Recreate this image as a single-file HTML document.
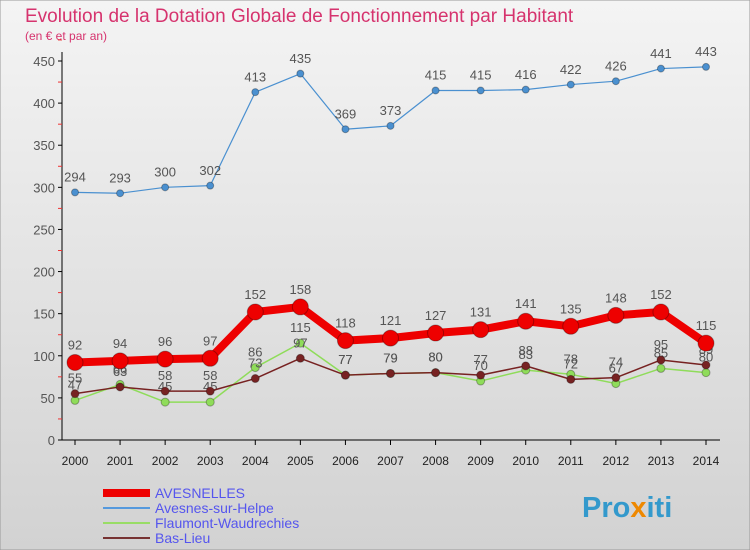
<!DOCTYPE html>
<html><head><meta charset="utf-8"><style>
body{margin:0;width:750px;height:550px;overflow:hidden;font-family:"Liberation Sans",sans-serif;}
svg{display:block}
</style></head><body>
<svg width="750" height="550" id="c">
<defs><linearGradient id="bg" x1="0" y1="0" x2="0" y2="1"><stop offset="0" stop-color="#f4f4f4"/><stop offset="1" stop-color="#d2d2d2"/></linearGradient></defs>
<rect x="0" y="0" width="750" height="550" fill="url(#bg)" stroke="#999"/>
<text x="25" y="22" font-size="19" fill="#d6336e">Evolution de la Dotation Globale de Fonctionnement par Habitant</text>
<text x="25" y="40" font-size="12" fill="#d6336e">(en € et par an)</text>
<g id="axes"></g><g id="series"></g>
<g>
<line x1="103" y1="493" x2="150" y2="493" stroke="#ee0000" stroke-width="8"/><text x="155" y="498" font-size="14" fill="#5555ee">AVESNELLES</text>
<line x1="103" y1="508" x2="150" y2="508" stroke="#5599dd" stroke-width="2"/><text x="155" y="513" font-size="14" fill="#5555ee">Avesnes-sur-Helpe</text>
<line x1="103" y1="523" x2="150" y2="523" stroke="#99dd66" stroke-width="2"/><text x="155" y="528" font-size="14" fill="#5555ee">Flaumont-Waudrechies</text>
<line x1="103" y1="538" x2="150" y2="538" stroke="#773333" stroke-width="2"/><text x="155" y="543" font-size="14" fill="#5555ee">Bas-Lieu</text>
</g>
<text x="582" y="517" font-size="29" font-weight="bold" fill="#3399cc">Pro<tspan fill="#ee8800">x</tspan>iti</text>
</svg>
<script>
const years=[2000,2001,2002,2003,2004,2005,2006,2007,2008,2009,2010,2011,2012,2013,2014];
const avesnelles=[92,94,96,97,152,158,118,121,127,131,141,135,148,152,115];
const avesnes=[294,293,300,302,413,435,369,373,415,415,416,422,426,441,443];
const flaumont=[47,66,45,45,86,115,77,79,80,70,83,78,67,85,80];
const basLieu=[55,63,58,58,73,97,77,79,80,77,88,72,74,95,89];
const yTicks=[0,50,100,150,200,250,300,350,400,450];
const NS="http://www.w3.org/2000/svg";
const X=i=>75+i*(706-75)/14, Y=v=>440-v*(440-61)/450;
function mk(t,a,p){const e=document.createElementNS(NS,t);for(const k in a)e.setAttribute(k,a[k]);p.appendChild(e);return e;}
const ax=document.getElementById('axes'), se=document.getElementById('series');
const yl=mk('line',{x1:62,y1:52,x2:62,y2:440,stroke:'#000'},ax);


const xl=mk('line',{x1:62,y1:440,x2:720,y2:440,stroke:'#000'},ax);


yTicks.forEach(v=>{mk('line',{x1:58,x2:62,y1:Y(v),y2:Y(v),stroke:'#000'},ax);
mk('line',{x1:58,x2:62,y1:Y(v+25),y2:Y(v+25),stroke:'#e33'},ax);
const t=mk('text',{x:55,y:Y(v)+5,'text-anchor':'end','font-size':13,fill:'#555'},ax);t.textContent=v;

});
years.forEach((y,i)=>{mk('line',{x1:X(i),x2:X(i),y1:440,y2:445,stroke:'#000'},ax);
const t=mk('text',{x:X(i),y:465,'text-anchor':'middle','font-size':12,fill:'#222'},ax);t.textContent=y;

});
function series(d,c,w,r,name){const g=mk('g',{},se);


mk('polyline',{points:d.map((v,i)=>X(i)+','+Y(v)).join(' '),fill:'none',stroke:c,'stroke-width':w,'stroke-linejoin':'round'},g);
d.forEach((v,i)=>{const p=mk('circle',{cx:X(i),cy:Y(v),r:r,fill:c,stroke:'rgba(0,0,0,0.3)'},g);


const t=mk('text',{x:X(i),y:Y(v)-9-r/2,'text-anchor':'middle','font-size':13,fill:'#555'},g);t.textContent=v;});}
series(flaumont,'#8fdc5a',1.5,4,'series-flaumont');
series(basLieu,'#772222',1.5,4,'series-bas-lieu');
series(avesnes,'#4a90d0',1.2,3.5,'series-avesnes');
series(avesnelles,'#ee0000',8,8,'series-avesnelles');
</script>
</body></html>
